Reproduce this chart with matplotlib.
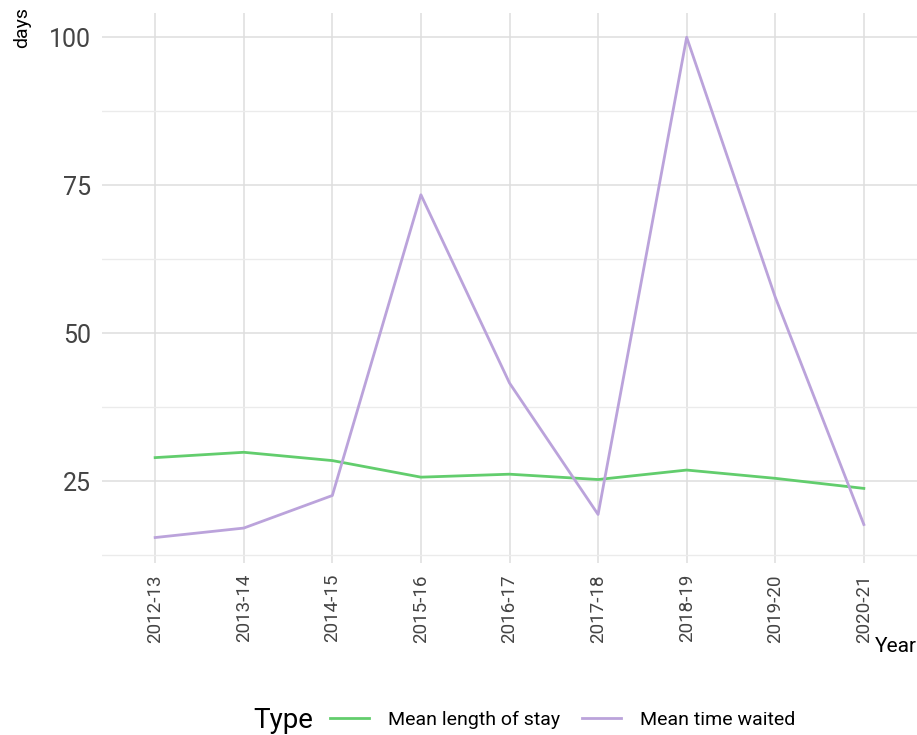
import matplotlib
matplotlib.use("Agg")
import matplotlib.pyplot as plt
from matplotlib.ticker import MultipleLocator

plt.rcParams['font.family'] = ['Liberation Sans Narrow', 'Roboto', 'DejaVu Sans']

years = ["2012-13", "2013-14", "2014-15", "2015-16", "2016-17",
         "2017-18", "2018-19", "2019-20", "2020-21"]
length_of_stay = [29.0, 29.9, 28.5, 25.7, 26.2, 25.3, 26.9, 25.5, 23.8]
time_waited = [15.5, 17.1, 22.6, 73.4, 41.6, 19.4, 100.0, 56.1, 17.7]

green = "#62CD6D"
purple = "#BBA3DB"

fig = plt.figure(figsize=(9.17, 7.35), dpi=100)
ax = fig.add_axes([102/917, 1-563/735, 815/917, 550/735])

x = range(len(years))
ax.plot(x, length_of_stay, color=green, lw=2, label="Mean length of stay", zorder=3)
ax.plot(x, time_waited, color=purple, lw=2, label="Mean time waited", zorder=3)

ax.set_xlim(-0.6, len(years) - 0.4)
ax.set_ylim(11.2, 104.1)
ax.set_xticks(list(x))
ax.set_xticklabels(years, rotation=90, fontsize=13.5, color="#444444")
ax.yaxis.set_major_locator(MultipleLocator(25))
ax.yaxis.set_minor_locator(MultipleLocator(12.5))
ax.tick_params(axis='y', labelsize=18, labelcolor="#444444", length=0, pad=8)
ax.tick_params(axis='x', length=0, pad=8)
ax.tick_params(which='minor', length=0)

ax.grid(True, which='major', color="#DEDEDE", lw=1.1)
ax.grid(True, which='minor', axis='y', color="#EBEBEB", lw=1.0)
for s in ax.spines.values():
    s.set_visible(False)
ax.set_axisbelow(True)

fig.text(22/917, 1-27/735, "days", rotation=90, fontsize=14, ha='center', va='center')
fig.text(917/917, 1-646/735, "Year", fontsize=15, ha='right', va='center')

fig.text(283/917, 1-720/735, "Type", fontsize=20, ha='center', va='center')
fig.legend(loc='center left', bbox_to_anchor=(330/917, 1-720/735), ncol=2, frameon=False,
           fontsize=14, handlelength=2.0, columnspacing=1.1, handletextpad=1.0,
           borderpad=0, borderaxespad=0)

fig.savefig("out.png", dpi=100)
